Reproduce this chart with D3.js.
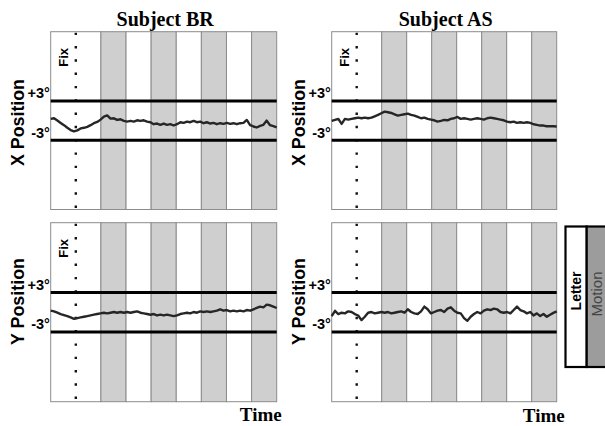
<!DOCTYPE html>
<html><head><meta charset="utf-8">
<script src="https://cdn.jsdelivr.net/npm/d3@7"></script>
<style>body{margin:0;background:#fff}svg{display:block}</style>
</head><body><svg id="c" width="605" height="426"></svg>
<script>
// ---------- data ----------
const subjects = ["Subject BR", "Subject AS"];
const rowLabels = ["X Position", "Y Position"];
const blockConditions = ["Fix", "Motion", "Letter", "Motion", "Letter", "Motion", "Letter", "Motion"];
const blockStarts = [0, 2, 3, 4, 5, 6, 7, 8];
const blockEnds   = [2, 3, 4, 5, 6, 7, 8, 9];
const fixMarker = 1;
const timeDomain = [0, 9];
const posDomain = [-13.6, 13.6];
const limitValues = [3, -3];
const limitLabels = ["+3\u00B0", "-3\u00B0"];
const legendLabels = ["Letter", "Motion"];
const timeLabel = "Time";
const fixLabel = "Fix";

// eye position traces (degrees), uniformly sampled over the run
const brX = [0.26,0.36,0.0,-0.35,-0.7,-1.1,-1.45,-1.65,-1.5,-1.2,-1.1,-0.95,-0.7,-0.4,-0.2,0.15,0.6,0.8,0.3,0.35,
  0.1,0.2,-0.05,-0.15,-0.05,-0.15,0.05,-0.05,0.05,-0.15,-0.25,-0.55,-0.45,-0.65,-0.45,-0.65,-0.55,-0.75,-0.55,-0.25,
  -0.35,-0.15,-0.25,-0.05,-0.25,-0.15,-0.4,-0.25,-0.45,-0.35,-0.55,-0.4,-0.5,-0.35,-0.5,-0.4,-0.55,-0.4,-0.35,0.1,
  -0.7,-0.9,-1.05,-0.8,-0.65,0.0,-0.7,-0.85,-1.05];
const asX = [-0.05,0.1,0.26,-0.5,0.26,0.15,0.26,0.36,0.46,0.36,0.46,0.36,0.46,0.66,0.87,1.12,1.37,1.27,1.17,0.97,
  0.77,0.87,0.97,1.07,0.87,0.77,0.56,0.36,0.46,0.26,0.15,0.05,-0.15,-0.05,0.1,0.05,0.26,0.36,0.56,0.26,
  0.36,0.26,0.15,0.26,0.36,0.26,0.15,0.36,0.46,0.36,0.26,0.15,0.05,-0.15,-0.25,-0.15,-0.35,-0.25,-0.35,-0.25,
  -0.35,-0.56,-0.66,-0.76,-0.76,-0.86,-0.86,-0.86,-0.9];
const brY = [0.23,0.13,-0.08,-0.28,-0.44,-0.59,-0.79,-1.0,-0.9,-0.79,-0.69,-0.59,-0.49,-0.38,-0.28,-0.18,-0.08,-0.18,-0.08,0.03,
  -0.08,0.03,-0.08,0.03,-0.08,0.03,0.13,-0.08,-0.18,-0.28,-0.38,-0.28,-0.49,-0.38,-0.49,-0.38,-0.49,-0.59,-0.49,-0.28,
  -0.18,-0.08,-0.18,0.03,-0.08,0.13,0.03,0.13,0.03,0.13,0.23,0.44,0.23,0.33,0.13,0.23,0.13,0.23,0.13,0.33,
  0.23,0.44,0.64,0.85,0.74,1.15,1.05,0.85,0.64];
const asY = [-0.59,0.2,-0.28,-0.08,-0.18,0.13,0.03,-0.28,-0.5,-1.2,-0.69,-0.08,0.03,-0.18,-0.08,0.03,-0.08,0.03,-0.18,-0.08,
  0.03,0.13,-0.08,0.44,0.03,-0.18,-0.28,0.13,0.85,0.44,-0.18,0.03,0.23,0.33,0.03,0.54,0.74,0.23,-0.08,-0.18,
  -0.9,-1.31,-0.69,-0.28,0.03,-0.18,0.23,0.44,0.33,0.54,0.44,0.03,-0.08,0.03,-0.18,0.33,0.85,0.33,0.13,-0.18,
  0.03,-0.49,-0.18,-0.59,-0.28,-0.69,-0.38,-0.1,0.13];

const traces = [[brX, asX], [brY, asY]]; // [row][col]
const showFix = [[true, true], [true, false]];

// ---------- layout ----------
const svg = d3.select("#c");
const cols = [{x0: 50.7, x1: 276.7}, {x0: 331.7, x1: 556.7}];
const rows = [{y0: 31.7, y1: 209.5}, {y0: 222.7, y1: 401.7}];
const rowLabelCenter = [122.5, 301.5];
const timeOffsets = [5, 8];

const sans = "'Liberation Sans', Arial, Helvetica, sans-serif";
const serif = "'Liberation Serif', 'Times New Roman', Times, serif";

rows.forEach((r, ri) => {
  cols.forEach((c, ci) => {
    const x = d3.scaleLinear().domain(timeDomain).range([c.x0, c.x1]);
    const y = d3.scaleLinear().domain(posDomain).range([r.y1, r.y0]);
    const g = svg.append("g");

    // condition blocks
    const blocks = blockConditions.map((cond, i) => ({cond, s: blockStarts[i], e: blockEnds[i]}));
    g.selectAll("rect.blk").data(blocks).join("rect")
      .attr("x", d => x(d.s)).attr("width", d => x(d.e) - x(d.s))
      .attr("y", r.y0).attr("height", r.y1 - r.y0)
      .attr("fill", d => d.cond === "Motion" ? "#cfcfcf" : "#ffffff")
      .attr("stroke", "#8c8c8c").attr("stroke-width", 1);

    // fixation dotted marker
    g.append("line")
      .attr("x1", x(fixMarker)).attr("x2", x(fixMarker))
      .attr("y1", r.y0 + 1).attr("y2", r.y1)
      .attr("stroke", "#111").attr("stroke-width", 2.4)
      .attr("stroke-dasharray", "2.4,10.9");

    // +/-3 degree limit lines
    g.selectAll("line.lim").data(limitValues).join("line")
      .attr("x1", c.x0).attr("x2", c.x1)
      .attr("y1", d => y(d)).attr("y2", d => y(d))
      .attr("stroke", "#000").attr("stroke-width", 3);

    // trace
    const vals = traces[ri][ci];
    const n = vals.length;
    const line = d3.line()
      .x((d, i) => x(timeDomain[0] + i * (timeDomain[1] - timeDomain[0]) / (n - 1)))
      .y(d => y(d));
    g.append("path").attr("d", line(vals))
      .attr("fill", "none").attr("stroke", "#262626")
      .attr("stroke-width", 2.4).attr("stroke-linejoin", "round");

    // limit labels
    g.selectAll("text.lim").data(limitValues).join("text")
      .attr("x", c.x0 - 0.8).attr("y", d => y(d) - 2.5)
      .attr("text-anchor", "end")
      .attr("font-family", sans).attr("font-size", 14.5).attr("font-weight", "bold")
      .text((d, i) => limitLabels[i]);

    // row label
    g.append("text")
      .attr("transform", `translate(${c.x0 - 27.2},${rowLabelCenter[ri]}) rotate(-90)`)
      .attr("text-anchor", "middle")
      .attr("font-family", sans).attr("font-size", 19).attr("font-weight", "bold")
      .attr("textLength", 87).attr("lengthAdjust", "spacingAndGlyphs")
      .text(rowLabels[ri]);

    // fix label
    if (showFix[ri][ci]) {
      g.append("text")
        .attr("transform", `translate(${c.x0 + 16.8},${r.y0 + 35}) rotate(-90)`)
        .attr("text-anchor", "start")
        .attr("font-family", sans).attr("font-size", 13).attr("font-weight", "bold")
        .text(fixLabel);
    }

    if (ri === 0) {
      g.append("text")
        .attr("x", (c.x0 + c.x1) / 2 + 1.5).attr("y", 26)
        .attr("text-anchor", "middle")
        .attr("font-family", serif).attr("font-size", 20).attr("font-weight", "bold")
        .text(subjects[ci]);
    }
    if (ri === 1) {
      g.append("text")
        .attr("x", c.x1 + timeOffsets[ci]).attr("y", 420.5 + ci)
        .attr("text-anchor", "end")
        .attr("font-family", serif).attr("font-size", 19).attr("font-weight", "bold")
        .text(timeLabel);
    }
  });
});

// ---------- legend ----------
const lg = svg.append("g");
const lx = 565.5, ly = 226.5, lh = 140.5, lw = 21.2;
const legendFills = ["#ffffff", "#9c9c9c"];
lg.selectAll("rect").data(legendLabels).join("rect")
  .attr("x", (d, i) => lx + i * lw).attr("y", ly)
  .attr("width", lw).attr("height", lh)
  .attr("fill", (d, i) => legendFills[i])
  .attr("stroke", "#000").attr("stroke-width", 2.2);
lg.selectAll("text").data(legendLabels).join("text")
  .attr("transform", (d, i) => `translate(${lx + i * lw + (i ? 15.5 : 15)},${ly + 45}) rotate(-90)`)
  .attr("text-anchor", "end")
  .attr("font-family", sans)
  .attr("font-size", (d, i) => i ? 15 : 14)
  .attr("font-weight", (d, i) => i ? "normal" : "bold")
  .attr("fill", (d, i) => i ? "#444" : "#000")
  .text(d => d);
</script></body></html>
